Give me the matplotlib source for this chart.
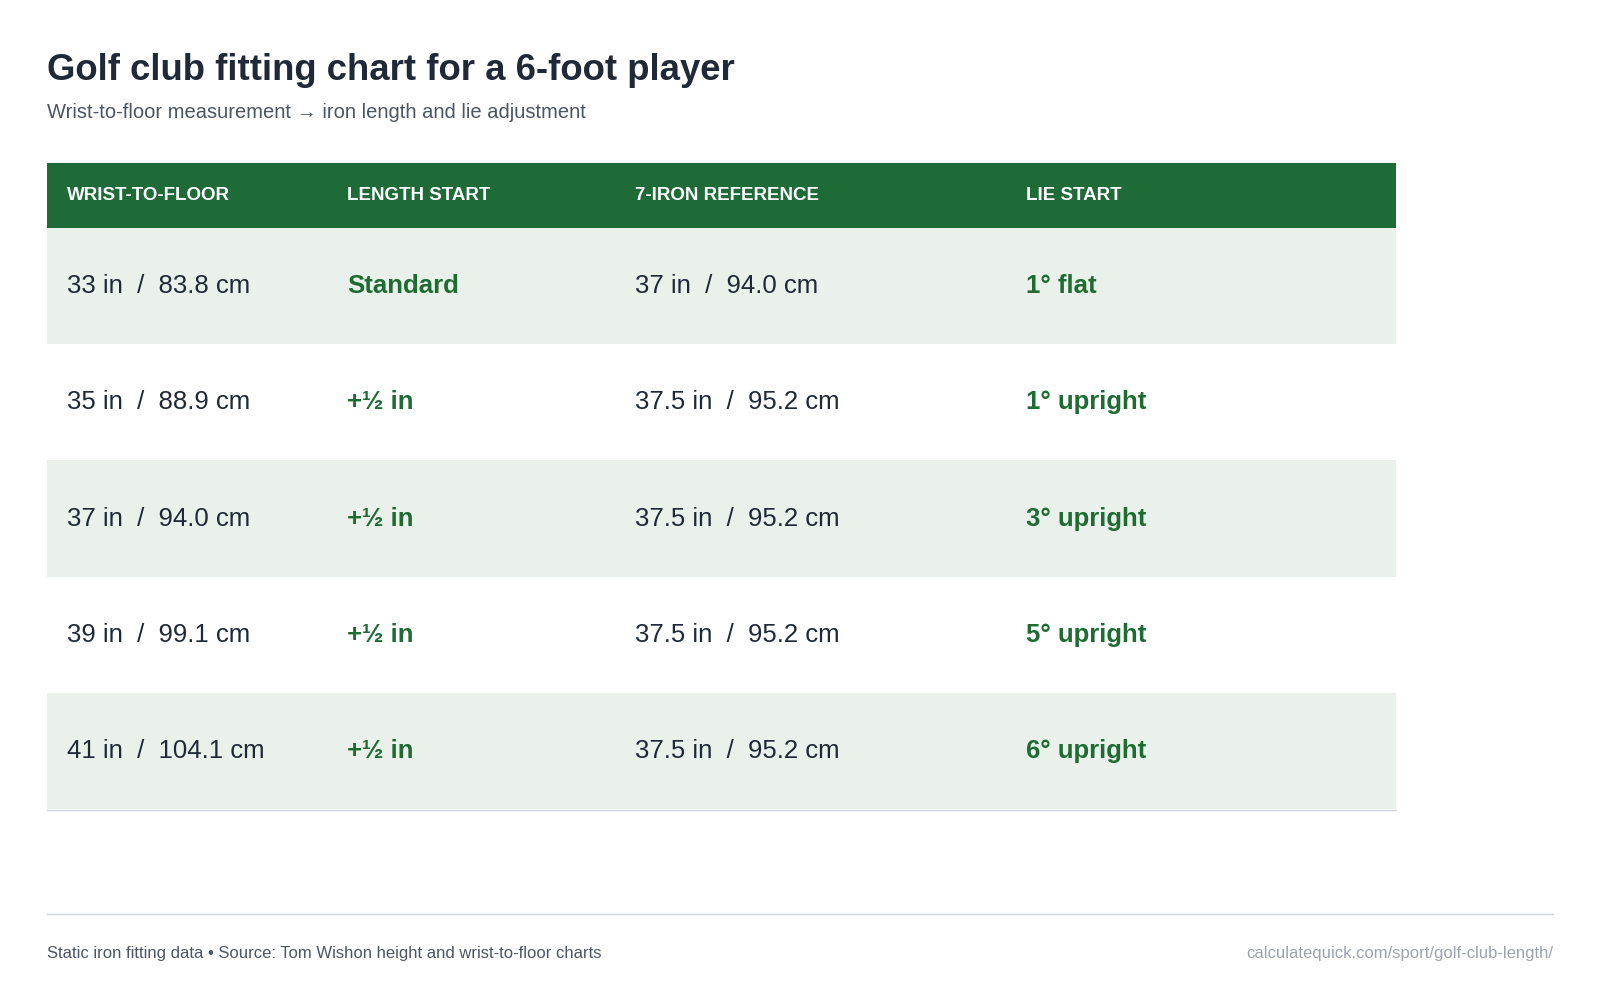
import matplotlib
matplotlib.use("Agg")
import matplotlib.pyplot as plt
from matplotlib.patches import Rectangle

headers = ["WRIST-TO-FLOOR", "LENGTH START", "7-IRON REFERENCE", "LIE START"]
wrist = ["33 in  /  83.8 cm", "35 in  /  88.9 cm", "37 in  /  94.0 cm", "39 in  /  99.1 cm", "41 in  /  104.1 cm"]
length_start = ["Standard", "+½ in", "+½ in", "+½ in", "+½ in"]
iron7 = ["37 in  /  94.0 cm", "37.5 in  /  95.2 cm", "37.5 in  /  95.2 cm", "37.5 in  /  95.2 cm", "37.5 in  /  95.2 cm"]
lie = ["1° flat", "1° upright", "3° upright", "5° upright", "6° upright"]

W, H = 1568, 966
fig = plt.figure(figsize=(16, 9.86), dpi=100)
ax = fig.add_axes([0, 0, 1, 1])
ax.set_xlim(0, W); ax.set_ylim(H, 0); ax.axis("off")
plt.rcParams['font.family'] = ['Liberation Sans', 'DejaVu Sans']

green = "#1f6b37"; tgreen = "#1e6b33"; dark = "#1f2937"
ax.text(46, 69, "Golf club fitting chart for a 6-foot player", fontsize=26.3, fontweight="bold", color=dark, va="center")
ax.text(46, 110, "Wrist-to-floor measurement → iron length and lie adjustment", fontsize=14.5, color="#4b5563", va="center",
        family=['Liberation Sans', 'DejaVu Sans'])

colx = [66, 340, 622, 1005]
ax.add_patch(Rectangle((46, 160), 1322, 63, color=green, lw=0))
for x, h in zip(colx, headers):
    ax.text(x, 192, h, fontsize=13.5, fontweight="bold", color="white", va="center")
rh = 114
for i in range(5):
    y0 = 223 + i * rh
    if i % 2 == 0:
        ax.add_patch(Rectangle((46, y0), 1322, rh, color="#e9f1ea", lw=0))
    yc = y0 + rh / 2
    ax.text(colx[0], yc, wrist[i], fontsize=18.5, color=dark, va="center")
    ax.text(colx[1], yc, length_start[i], fontsize=18.5, fontweight="bold", color=tgreen, va="center")
    ax.text(colx[2], yc, iron7[i], fontsize=18.5, color=dark, va="center")
    ax.text(colx[3], yc, lie[i], fontsize=18.5, fontweight="bold", color=tgreen, va="center")
ax.plot([46, 1368], [793.5, 793.5], color="#d1d5db", lw=1)
ax.plot([46, 1522], [895, 895], color="#d1d5db", lw=1)
ax.text(46, 934, "Static iron fitting data • Source: Tom Wishon height and wrist-to-floor charts", fontsize=12, color="#4b5563", va="center")
ax.text(1522, 934, "calculatequick.com/sport/golf-club-length/", fontsize=12, color="#9ca3af", va="center", ha="right")
fig.savefig("out.png", dpi=100, facecolor="white")
